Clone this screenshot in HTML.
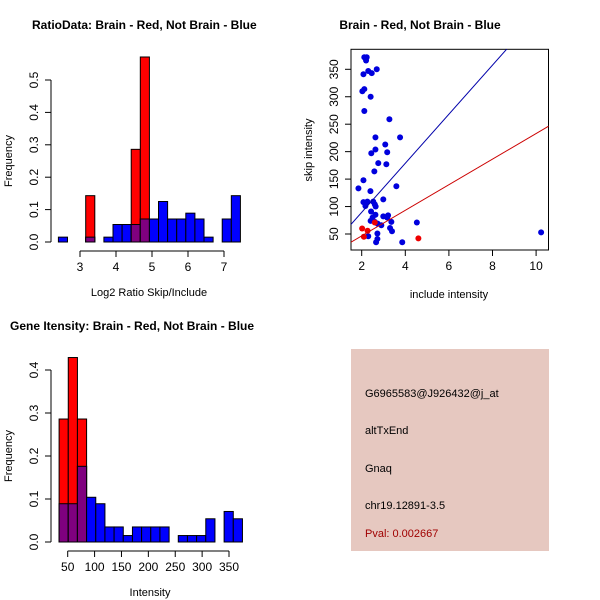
<!DOCTYPE html>
<html><head><meta charset="utf-8"><style>
body{margin:0;background:#fff}
svg{display:block;font-family:"Liberation Sans",sans-serif}
</style></head><body>
<svg id="c" width="600" height="600" viewBox="0 0 600 600">
<rect width="600" height="600" fill="#fff"/>
<text x="32" y="29" font-size="12" font-weight="bold">RatioData: Brain - Red, Not Brain - Blue</text>
<text x="420" y="29" font-size="12" font-weight="bold" text-anchor="middle">Brain - Red, Not Brain - Blue</text>
<text x="10" y="330" font-size="12" font-weight="bold">Gene Itensity: Brain - Red, Not Brain - Blue</text>
<g id="p1"></g>
<g id="p2"></g>
<g id="p3"></g>
<g>
<rect x="351" y="349" width="198" height="202" fill="#e6c8c0"/>
<text x="365" y="397" font-size="11">G6965583@J926432@j_at</text>
<text x="365" y="434" font-size="11">altTxEnd</text>
<text x="365" y="472" font-size="11">Gnaq</text>
<text x="365" y="509" font-size="11">chr19.12891-3.5</text>
<text x="365" y="537" font-size="11" fill="#a00000">Pval: 0.002667</text>
</g>
</svg>
<script>
// ---- Plot 1 data ----
const ratioBinStart = 2.4, ratioBinWidth = 0.2528;
const ratioBlue = [0.015,0,0,0.015,0,0.015,0.054,0.054,0.054,0.071,0.071,0.125,0.071,0.071,0.089,0.071,0.015,0,0.071,0.143];
const ratioRed  = [0,0,0,0.143,0,0,0,0,0.286,0.571,0,0,0,0,0,0,0,0,0,0];
const ratioXTicks = [3,4,5,6,7];
const ratioYTicks = ["0.0","0.1","0.2","0.3","0.4","0.5"];
// ---- Plot 2 data ----
const blueIncl = [2.12,2.23,2.2,2.08,2.3,2.46,2.69,2.03,2.12,2.41,2.12,3.27,2.63,3.76,3.08,2.63,3.17,2.44,2.76,3.13,2.58,2.08,1.85,3.59,2.4,2.99,2.08,2.26,2.53,2.17,2.6,2.64,2.43,2.63,2.99,3.17,3.21,2.5,2.41,2.6,2.73,2.9,3.36,4.53,3.3,3.39,2.3,2.72,2.72,2.66,3.86,10.23];
const blueSkip = [372,372,366,341,347,343,350,310,314,300,274,259,226,226,213,204,199,197,179,177,164,148,133,137,128,113,108,109,109,101,104,100,91,85,82,80,84,80,74,72,69,66,72,71,61,55,46,51,41,35,35,53];
const redIncl = [2.02,2.27,2.1,2.6,4.6];
const redSkip = [60,56,45,71,42];
const blueFit = [0, 44.7];  // intercept, slope
const redFit = [0, 23.3];
const scXTicks = [2,4,6,8,10];
const scYTicks = [50,100,150,200,250,300,350];
// ---- Plot 3 data ----
const intBinStart = 34, intBinWidth = 17.05;
const intBlue = [0.089,0.089,0.176,0.104,0.089,0.035,0.035,0.015,0.035,0.035,0.035,0.035,0,0.015,0.015,0.015,0.054,0,0.071,0.054];
const intRed  = [0.286,0.429,0.286,0,0,0,0,0,0,0,0,0,0,0,0,0,0,0,0,0];
const intXTicks = [50,100,150,200,250,300,350];
const intYTicks = ["0.0","0.1","0.2","0.3","0.4"];

const NS="http://www.w3.org/2000/svg";
function mk(parent,tag,attrs){const e=document.createElementNS(NS,tag);for(const k in attrs)e.setAttribute(k,attrs[k]);parent.appendChild(e);return e;}

function hist(g,xs,ys,start,w,blue,red,xt,yt,xlabel,xAxisY,xlabelX){
  const X=v=>xs[0]+(v-xs[1])*xs[2], Y=v=>ys[0]-v*ys[1];
  for(let i=0;i<blue.length;i++){
    const x0=X(start+i*w), x1=X(start+(i+1)*w);
    const b=blue[i], r=red[i], m=Math.min(b,r);
    if(b>0){const e=mk(g,'rect',{x:x0,y:Y(b),width:x1-x0,height:Y(0)-Y(b),fill:'#0000ff',stroke:'#000','stroke-width':1});
      
      }
    if(r>0){const e=mk(g,'rect',{x:x0,y:Y(r),width:x1-x0,height:Y(0)-Y(r),fill:'#ff0000',stroke:'#000','stroke-width':1});
      
      }
    if(m>0){const e=mk(g,'rect',{x:x0,y:Y(m),width:x1-x0,height:Y(0)-Y(m),fill:'#7f007f',stroke:'#000','stroke-width':1});
      
      }
  }
  const ax=mk(g,'line',{x1:X(xt[0]),x2:X(xt[xt.length-1]),y1:xAxisY,y2:xAxisY,stroke:'#000'});
  
  
  xt.forEach(v=>{mk(g,'line',{x1:X(v),x2:X(v),y1:xAxisY,y2:xAxisY+6,stroke:'#000'});
    const t=mk(g,'text',{x:X(v),y:xAxisY+20,'font-size':12,'text-anchor':'middle'});t.textContent=v;
    
    });
  const ay=mk(g,'line',{x1:51,x2:51,y1:Y(0),y2:Y(+yt[yt.length-1]),stroke:'#000'});
  
  
  yt.forEach(s=>{const v=+s;mk(g,'line',{x1:45,x2:51,y1:Y(v),y2:Y(v),stroke:'#000'});
    const t=mk(g,'text',{x:0,y:0,'font-size':12,'text-anchor':'middle',transform:`translate(38,${Y(v)}) rotate(-90)`});t.textContent=s;
    
    });
  const xl=mk(g,'text',{x:xlabelX,y:xAxisY+45,'font-size':11,'text-anchor':'middle'});xl.textContent=xlabel;
  
  
  const yl=mk(g,'text',{x:0,y:0,'font-size':11,'text-anchor':'middle',transform:`translate(12,${(Y(0)+Y(+yt[yt.length-1]))/2}) rotate(-90)`});yl.textContent='Frequency';
  
  
}
hist(document.getElementById('p1'),[80,3,36],[242,324],ratioBinStart,ratioBinWidth,ratioBlue,ratioRed,ratioXTicks,ratioYTicks,'Log2 Ratio Skip/Include',251,149);
hist(document.getElementById('p3'),[67.7,50,0.5377],[542,430],intBinStart,intBinWidth,intBlue,intRed,intXTicks,intYTicks,'Intensity',551,150);

(function(){
  const g=document.getElementById('p2');
  const X=v=>361.7+(v-2)*21.8, Y=v=>234-(v-50)*0.549;
  const L=351,R=548.5,T=49.3,B=250;
  const cp=mk(g,'clipPath',{id:'sc'});mk(cp,'rect',{x:L,y:T,width:R-L,height:B-T});
  const box=mk(g,'rect',{x:L,y:T,width:R-L,height:B-T,fill:'none',stroke:'#000'});
  
  
  blueIncl.forEach((x,i)=>{const c=mk(g,'circle',{cx:X(x),cy:Y(blueSkip[i]),r:3,fill:'#0000dd'});
    
    });
  redIncl.forEach((x,i)=>{const c=mk(g,'circle',{cx:X(x),cy:Y(redSkip[i]),r:3,fill:'#ee0000'});
    
    });
  [[blueFit,'#0000aa','blue-fit-line'],[redFit,'#cc0000','red-fit-line']].forEach(([f,col,n])=>{
    const x0=0,x1=12;
    const l=mk(g,'line',{x1:X(x0),y1:Y(f[0]+f[1]*x0),x2:X(x1),y2:Y(f[0]+f[1]*x1),stroke:col,'clip-path':'url(#sc)'});
    
    });
  scXTicks.forEach(v=>{mk(g,'line',{x1:X(v),x2:X(v),y1:B,y2:B+6,stroke:'#000'});
    const t=mk(g,'text',{x:X(v),y:B+20,'font-size':12,'text-anchor':'middle'});t.textContent=v;
    
    });
  scYTicks.forEach(v=>{mk(g,'line',{x1:L-6,x2:L,y1:Y(v),y2:Y(v),stroke:'#000'});
    const t=mk(g,'text',{x:0,y:0,'font-size':12,'text-anchor':'middle',transform:`translate(338,${Y(v)}) rotate(-90)`});t.textContent=v;
    
    });
  const xl=mk(g,'text',{x:449,y:298,'font-size':11,'text-anchor':'middle'});xl.textContent='include intensity';
  
  
  const yl=mk(g,'text',{x:0,y:0,'font-size':11,'text-anchor':'middle',transform:'translate(312,150) rotate(-90)'});yl.textContent='skip intensity';
  
  
})();
</script>
</body></html>
